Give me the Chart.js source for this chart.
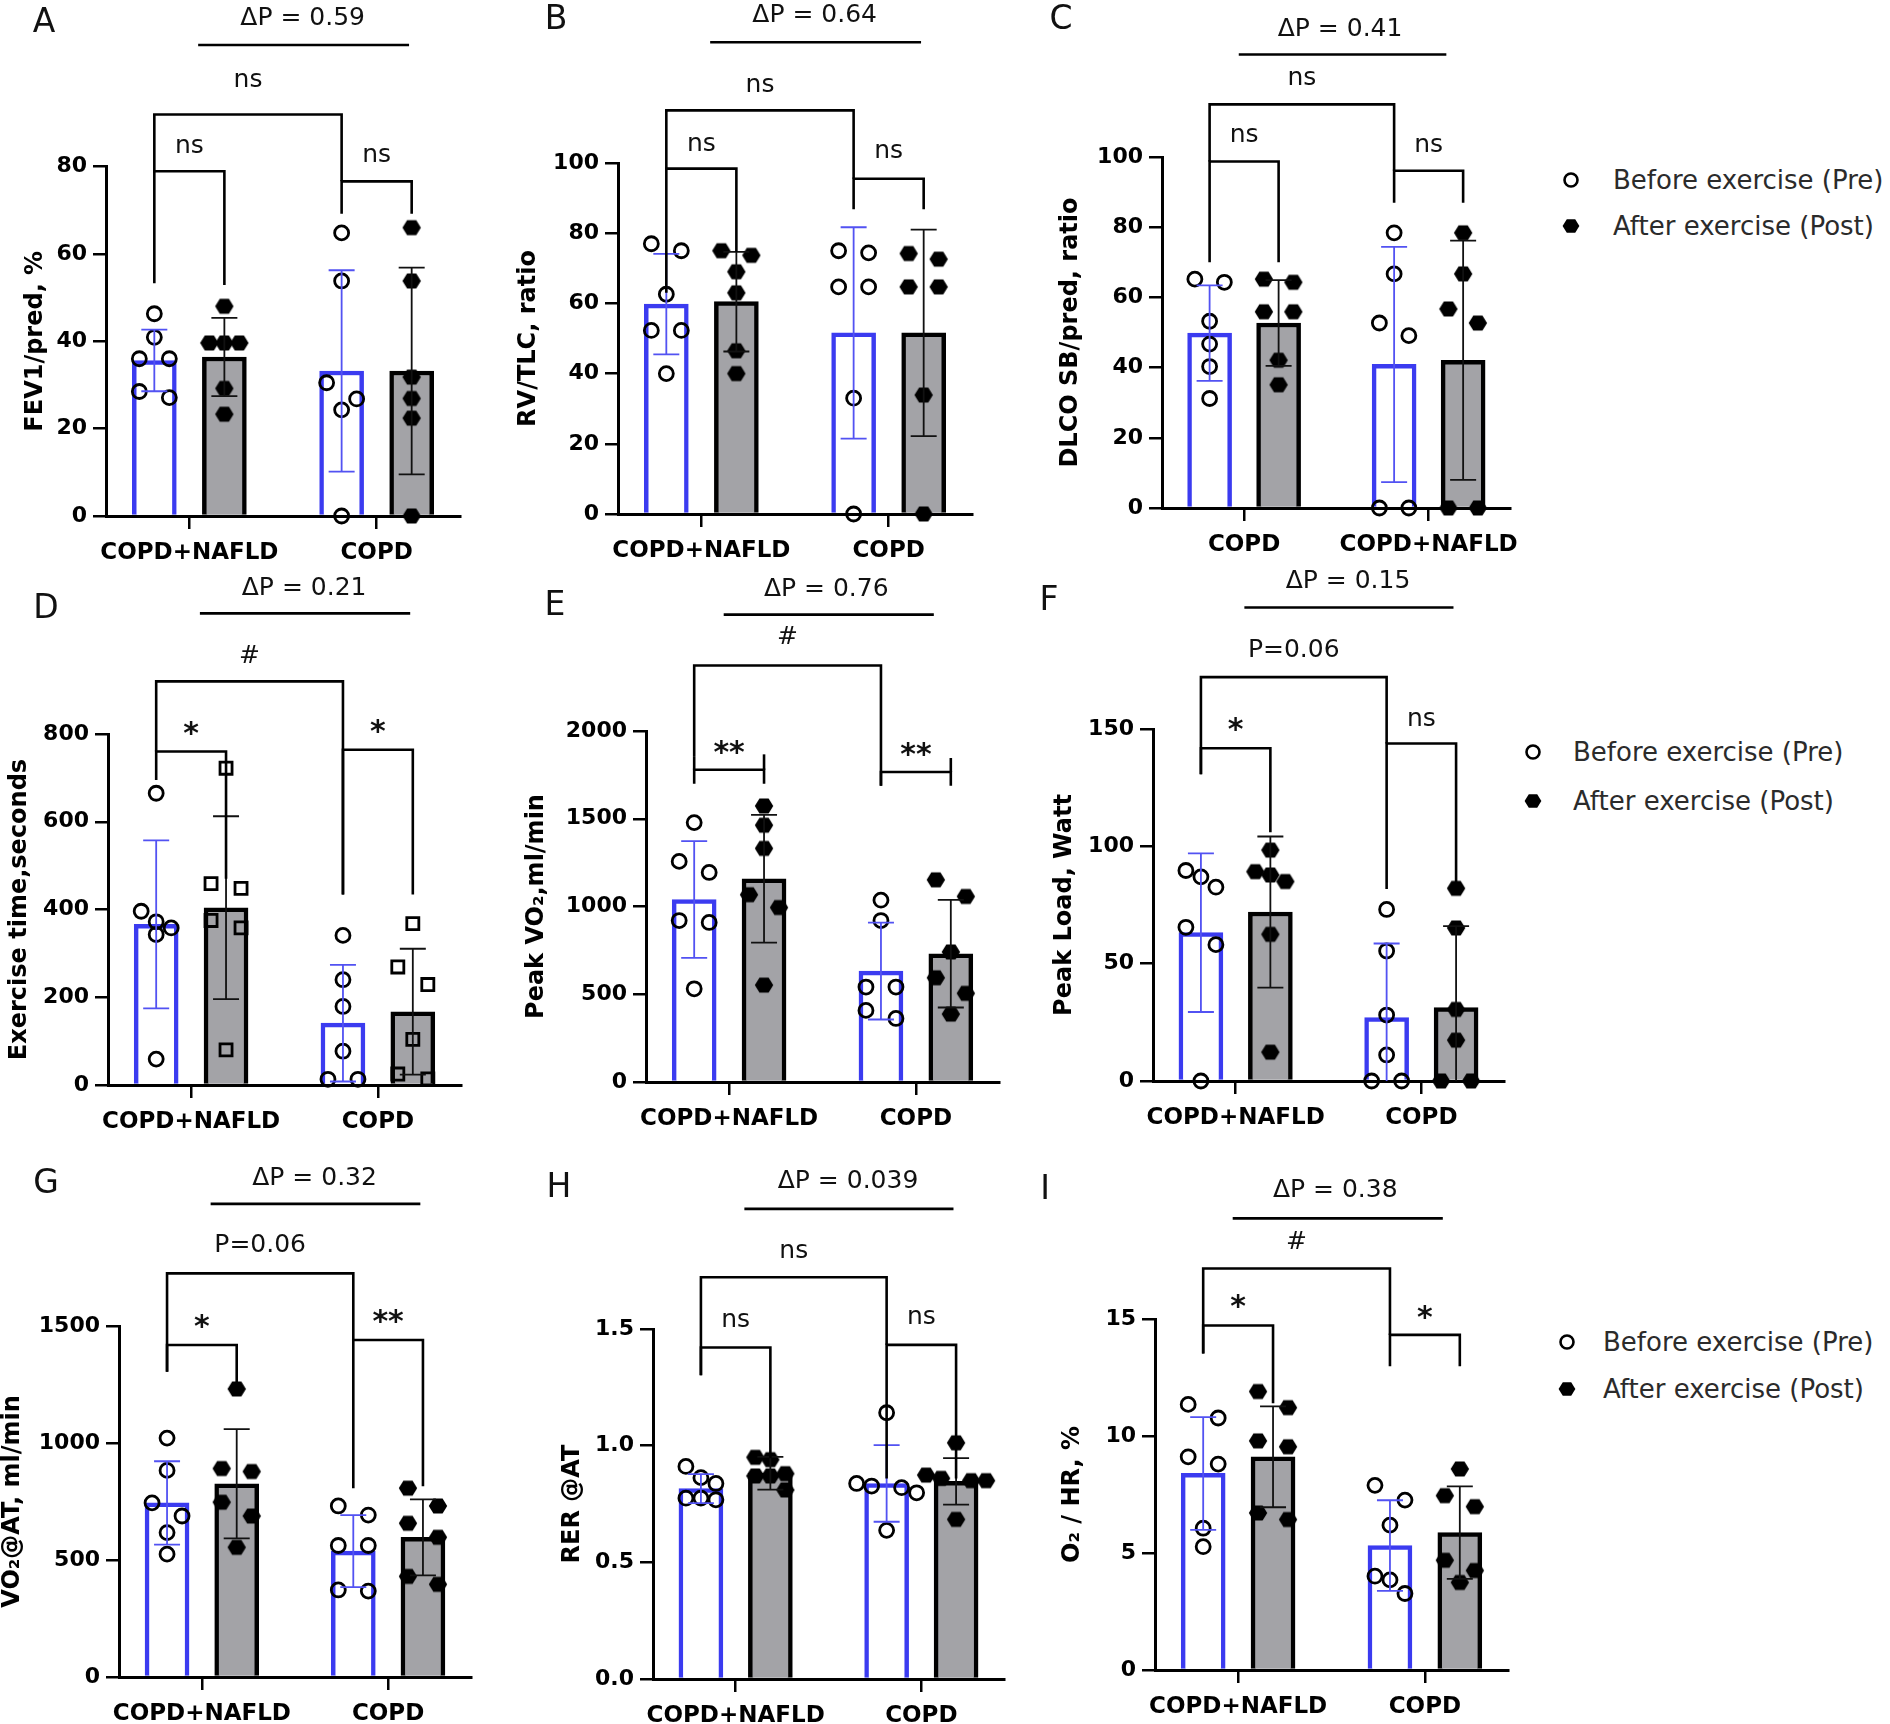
<!DOCTYPE html>
<html><head><meta charset="utf-8">
<script src="https://cdn.jsdelivr.net/npm/chart.js@4.4.1/dist/chart.umd.min.js"></script>
<style>
body{margin:0;background:#fff;}
#wrap{position:relative;width:1890px;height:1724px;overflow:hidden;background:#fff;font-family:'DejaVu Sans',sans-serif;}
#wrap canvas{position:absolute;}
.lt{position:absolute;font-size:33px;color:#111;transform:translate(-50%,-50%);line-height:1;}
.lg{position:absolute;font-size:26px;color:#2b2b2b;line-height:1;transform:translateY(-50%);white-space:nowrap;}
.mk{position:absolute;}
</style></head><body><div id="wrap"></div>
<script>
// ---------------- DATA ----------------
const legendLabels = ['Before exercise (Pre)', 'After exercise (Post)'];
const panelLetters = ['A','B','C','D','E','F','G','H','I'];

const catsA = ['COPD+NAFLD','COPD'];
const yTitleA = 'FEV1/pred, %';
const yMaxA = 80, yStepA = 20;
const preMeanA = [35.6, 33.2], preSdA = [7.05, 23.05];
const postMeanA = [36.4, 33.2], postSdA = [8.95, 23.65];
const prePtsA = [[46.3,40.9,36,36,27.1,28.5],[64.8,53.8,26.8,30.5,24.3,0]];
const postPtsA = [[48,39.6,39.6,39.6,29.2,23.3],[66,53.8,31.8,26.9,22.4,0]];
const sigA = ['ns','ns','ns'], deltaA = 'ΔP = 0.59';

const catsB = ['COPD+NAFLD','COPD'];
const yTitleB = 'RV/TLC, ratio';
const yMaxB = 100, yStepB = 20;
const preMeanB = [59.8, 51.6], preSdB = [14.3, 30.1];
const postMeanB = [60.5, 51.6], postSdB = [14.2, 29.4];
const prePtsB = [[75,77,62.6,52.3,52.3,40],[74.4,75,64.7,64.7,33,0]];
const postPtsB = [[73.7,75,69,63,46.5,40],[72.6,74.2,64.7,64.7,33.9,0]];
const sigB = ['ns','ns','ns'], deltaB = 'ΔP = 0.64';

const catsC = ['COPD','COPD+NAFLD'];
const yTitleC = 'DLCO SB/pred, ratio';
const yMaxC = 100, yStepC = 20;
const preMeanC = [49.8, 40.9], preSdC = [13.6, 33.5];
const postMeanC = [52.7, 42.1], postSdC = [12.2, 34.1];
const prePtsC = [[64.3,65.2,53.2,46.7,40.3,31.2],[78.4,66.7,49.1,52.7,0,0]];
const postPtsC = [[64.3,65.2,55.9,55.9,42.1,35.1],[78.4,66.7,52.7,56.7,0,0]];
const sigC = ['ns','ns','ns'], deltaC = 'ΔP = 0.41';

const catsD = ['COPD+NAFLD','COPD'];
const yTitleD = 'Exercise time,seconds';
const yMaxD = 800, yStepD = 200;
const preMeanD = [366, 141], preSdD = [191.5, 133];
const postMeanD = [404, 167], postSdD = [208.5, 143.5];
const prePtsD = [[665,396,372,358,343,59],[341,240,179,77,13,13]];
const postPtsD = [[722,459,448,375,358,80],[368,269,229,104,14,25]];
const sigD = ['*','*','#'], deltaD = 'ΔP = 0.21';

const catsE = ['COPD+NAFLD','COPD'];
const yTitleE = 'Peak VO₂,ml/min';
const yMaxE = 2000, yStepE = 500;
const preMeanE = [1040, 632], preSdE = [332.5, 276];
const postMeanE = [1158, 731], postSdE = [364, 306.5];
const prePtsE = [[1478,1257,1194,920,909,531],[1036,920,541,541,408,362]];
const postPtsE = [[1573,1463,1331,1067,994,552],[1057,1152,741,594,505,387]];
const sigE = ['**','**','#'], deltaE = 'ΔP = 0.76';

const catsF = ['COPD+NAFLD','COPD'];
const yTitleF = 'Peak Load, Watt';
const yMaxF = 150, yStepF = 50;
const preMeanF = [63.2, 27], preSdF = [33.8, 31.6];
const postMeanF = [72, 31.3], postSdF = [32.2, 34.7];
const prePtsF = [[89.7,87,82.6,65.5,58.1,0],[73.1,55.4,28.1,11.1,0,0]];
const postPtsF = [[89.2,98.4,87.8,85,62.5,12.3],[82.1,65.2,30.5,17.4,0,0]];
const sigF = ['*','ns','P=0.06'], deltaF = 'ΔP = 0.15';

const catsG = ['COPD+NAFLD','COPD'];
const yTitleG = 'VO₂@AT, ml/min';
const yMaxG = 1500, yStepG = 500;
const preMeanG = [744, 538], preSdG = [178, 153.5];
const postMeanG = [826, 597], postSdG = [233.5, 162.5];
const prePtsG = [[1021,883,744,688,617,525],[731,692,562,562,367,372]];
const postPtsG = [[1231,891,878,747,688,554],[807,731,657,597,430,396]];
const sigG = ['*','**','P=0.06'], deltaG = 'ΔP = 0.32';

const catsH = ['COPD+NAFLD','COPD'];
const yTitleH = 'RER @AT';
const yMaxH = 1.5, yStepH = 0.5;
const preMeanH = [0.816, 0.838], preSdH = [0.062, 0.164];
const postMeanH = [0.882, 0.847], postSdH = [0.07, 0.1];
const prePtsH = [[0.911,0.863,0.838,0.775,0.775,0.768],[1.141,0.838,0.827,0.82,0.798,0.637]];
const postPtsH = [[0.94,0.95,0.87,0.88,0.81,0.87],[1.012,0.874,0.85,0.85,0.86,0.684]];
const sigH = ['ns','ns','ns'], deltaH = 'ΔP = 0.039';

const catsI = ['COPD+NAFLD','COPD'];
const yTitleI = 'O₂ / HR, %';
const yMaxI = 15, yStepI = 5;
const preMeanI = [8.4, 5.32], preSdI = [2.41, 1.935];
const postMeanI = [9.11, 5.87], postSdI = [2.155, 1.975];
const prePtsI = [[11.35,10.77,8.8,9.11,6.06,5.27],[7.89,7.26,6.19,4.01,3.85,3.27]];
const postPtsI = [[11.9,11.21,9.54,9.79,6.43,6.71],[8.59,6.98,7.45,4.69,4.25,3.74]];
const sigI = ['*','*','#'], deltaI = 'ΔP = 0.38';

// ---------------- LAYOUT / STYLE ----------------
const FONT = "'DejaVu Sans', sans-serif";
const PRE_BLUE = '#3b3bf0';
const PRE_ERR = '#5252f2';
const POST_GRAY = '#a3a3a7';
Chart.defaults.font.family = FONT;
const wrap = document.getElementById('wrap');
const XMIN = -0.445, XMAX = 1.445;          // x range in group units
const P = {a:-0.187, b:0.187, c:0.813, d:1.187}; // bar centres (group units)

const hexImg = (() => {
  const c = document.createElement('canvas'); c.width = c.height = 20;
  const g = c.getContext('2d'); g.fillStyle = '#000'; g.beginPath();
  for (let i = 0; i < 6; i++) { const a = Math.PI / 3 * i; const x = 10 + 9.2 * Math.cos(a), y = 10 + 8.6 * Math.sin(a); i ? g.lineTo(x, y) : g.moveTo(x, y); }
  g.closePath(); g.fill(); return c;
})();

function swarm(vals, pxPerUnit, stepUnits) {
  const idx = vals.map((v, i) => i).sort((a, b) => vals[b] - vals[a]);
  const off = new Array(vals.length).fill(0);
  let k = 0;
  while (k < idx.length) {
    const start = vals[idx[k]]; const row = [idx[k]]; k++;
    while (k < idx.length && (start - vals[idx[k]]) * pxPerUnit < 18) { row.push(idx[k]); k++; }
    const n = row.length; let slots = [];
    if (n % 2) { for (let s = -(n - 1) / 2; s <= (n - 1) / 2; s++) slots.push(s); }
    else { for (let s = 1; s <= n / 2; s++) slots.push(-s, s); slots.sort((a, b) => a - b); }
    row.forEach((id, j) => off[id] = slots[j] * stepUnits);
  }
  return off;
}

const errPlugin = {
  id: 'errbars',
  afterDatasetsDraw(chart) {
    const ctx = chart.ctx, y = chart.scales.y;
    chart.data.datasets.forEach((ds, i) => {
      if (!ds.sd) return;
      const meta = chart.getDatasetMeta(i);
      meta.data.forEach((bar, j) => {
        const m = ds.data[j].y, s = ds.sd[j];
        const yt = y.getPixelForValue(m + s), lo = m - s, yb = y.getPixelForValue(Math.max(0, lo));
        ctx.save(); ctx.strokeStyle = ds.errColor; ctx.lineWidth = 1.8;
        ctx.beginPath(); ctx.moveTo(bar.x, yt); ctx.lineTo(bar.x, yb);
        ctx.moveTo(bar.x - 13, yt); ctx.lineTo(bar.x + 13, yt);
        if (lo > 0) { ctx.moveTo(bar.x - 13, yb); ctx.lineTo(bar.x + 13, yb); }
        ctx.stroke(); ctx.restore();
      });
    });
  }
};

const sigPlugin = {
  id: 'sig',
  afterDraw(chart, args, o) {
    if (!o || !o.inner1) return;
    const ctx = chart.ctx, xs = chart.scales.x, y = chart.scales.y;
    const X = v => xs.getPixelForValue(v), Y = v => y.getPixelForValue(v);
    ctx.save();
    ctx.strokeStyle = '#000'; ctx.lineWidth = 2.6; ctx.lineJoin = 'miter'; ctx.lineCap = 'butt';
    const br = (xa, xb, b) => {
      const [lv, lb, rb, lt, rt] = b;
      ctx.beginPath(); ctx.moveTo(X(xa), Y(lb)); ctx.lineTo(X(xa), Y(lv)); ctx.lineTo(X(xb), Y(lv)); ctx.lineTo(X(xb), Y(rb)); ctx.stroke();
      if (lt !== undefined) { ctx.beginPath(); ctx.moveTo(X(xa), Y(lt)); ctx.lineTo(X(xa), Y(lv)); ctx.stroke(); }
      if (rt !== undefined) { ctx.beginPath(); ctx.moveTo(X(xb), Y(rt)); ctx.lineTo(X(xb), Y(lv)); ctx.stroke(); }
    };
    br(P.a, P.b, o.inner1); br(P.c, P.d, o.inner2); br(P.a, P.c, o.outer);
    ctx.fillStyle = '#111'; ctx.textAlign = 'center'; ctx.textBaseline = 'middle';
    const lx = [0, 1, 0.313];
    o.labels.forEach((t, i) => {
      const star = /^\*+$/.test(t);
      ctx.font = (star ? 'bold 30px ' : '25px ') + FONT;
      ctx.fillText(t, X(lx[i]), Y(o.labelY[i]) + (star ? 7 : 0));
    });
    const dp = o.dp;
    ctx.beginPath(); ctx.moveTo(X(dp.x1), Y(dp.y)); ctx.lineTo(X(dp.x2), Y(dp.y)); ctx.stroke();
    ctx.font = '25px ' + FONT;
    ctx.fillText(o.delta, X(dp.tx), Y(dp.ty));
    ctx.restore();
  }
};

function buildPanel(c) {
  const {area, box} = c;
  const W = Math.round(box.x1 - box.x0), H = Math.round(box.y1 - box.y0);
  const cv = document.createElement('canvas');
  cv.width = W; cv.height = H;
  cv.style.left = box.x0 + 'px'; cv.style.top = box.y0 + 'px';
  cv.style.width = W + 'px'; cv.style.height = H + 'px';
  wrap.appendChild(cv);
  const XH = 58;
  const yW = area.l - box.x0;
  const pxPerUnit = (area.b - area.t) / c.yMax;
  const step = 15 / ((area.r - area.l) / (XMAX - XMIN));
  const pts = (arr, off) => {
    const out = [];
    arr.forEach((vals, g) => { const j = swarm(vals, pxPerUnit, step); vals.forEach((v, k) => out.push({x: g + off + j[k], y: v})); });
    return out;
  };
  const barPts = (means, off) => means.map((m, g) => ({x: g + off, y: m}));
  const titleFont = {size: 24, weight: 'bold', lineHeight: 1};
  const barCommon = {type: 'bar', borderWidth: 4.5, borderSkipped: 'bottom', grouped: false, barThickness: 44, maxBarThickness: 44, order: 3};
  new Chart(cv, {
    type: 'bar',
    data: {
      datasets: [
        Object.assign({label: legendLabels[0], data: barPts(c.preMean, P.a), sd: c.preSd, errColor: PRE_ERR, backgroundColor: '#ffffff', borderColor: PRE_BLUE}, barCommon),
        Object.assign({label: legendLabels[1], data: barPts(c.postMean, P.b), sd: c.postSd, errColor: '#111', backgroundColor: POST_GRAY, borderColor: '#000'}, barCommon),
        {type: 'scatter', data: pts(c.prePts, P.a), pointStyle: 'circle', pointRadius: 7, borderColor: '#000', borderWidth: 2.8, backgroundColor: 'rgba(0,0,0,0)', clip: false, order: 1},
        {type: 'scatter', data: pts(c.postPts, P.b), pointStyle: c.postSquare ? 'rect' : hexImg, pointRadius: c.postSquare ? 8.5 : 9, borderColor: '#000', borderWidth: c.postSquare ? 2.8 : 0, backgroundColor: c.postSquare ? 'rgba(0,0,0,0)' : '#000', clip: false, order: 1}
      ]
    },
    options: {
      responsive: false, maintainAspectRatio: false, animation: false, devicePixelRatio: 1, events: [],
      layout: {padding: {left: 0, top: area.t - box.y0, right: box.x1 - area.r, bottom: (box.y1 - area.b) - XH}},
      plugins: {
        legend: {display: false}, tooltip: {enabled: false},
        sig: Object.assign({labels: c.sigLabels, delta: c.delta}, c.sig)
      },
      scales: {
        x: {
          type: 'linear', min: XMIN, max: XMAX, offset: false, grace: 0, bounds: 'data',
          afterBuildTicks: s => { s.ticks = c.cats.map((t, i) => ({value: i})); },
          grid: {offset: false, drawOnChartArea: false, drawTicks: true, tickLength: 13, color: '#000', lineWidth: 2.5},
          border: {display: true, color: '#000', width: 3},
          ticks: {font: {size: 23, weight: 'bold'}, color: '#000', padding: 10, autoSkip: false, maxRotation: 0, minRotation: 0,
                  callback: (v, i) => c.cats[i]},
          afterFit: s => { s.height = XH; }
        },
        y: {
          type: 'linear', min: 0, max: c.yMax,
          ticks: {stepSize: c.yStep, autoSkip: false, font: {size: 22, weight: 'bold'}, color: '#000', padding: 6,
                  callback: v => c.yStep < 1 ? Number(v).toFixed(1) : v},
          grid: {drawOnChartArea: false, drawTicks: true, tickLength: 13, color: '#000', lineWidth: 2.5},
          border: {display: true, color: '#000', width: 3},
          title: {display: true, text: c.title, color: '#000', font: titleFont, padding: {top: Math.max(0, (area.l - c.titleOff) - box.x0 - 12), bottom: 0}},
          afterFit: s => { s.width = yW; }
        }
      }
    },
    plugins: [errPlugin, sigPlugin]
  });
}

const col = (l, r, rowTop, b, first) => ({x0: first ? 0 : l - 130, x1: r + 14, y0: rowTop, y1: b + 62});

const dpWide = (y, ty) => ({x1: 0.047, x2: 1.173, y, tx: 0.605, ty});
const dpShift = (y, ty) => ({x1: -0.029, x2: 1.096, y, tx: 0.52, ty});
const panels = [
  {cats: catsA, title: yTitleA, yMax: yMaxA, yStep: yStepA, preMean: preMeanA, preSd: preSdA, postMean: postMeanA, postSd: postSdA, prePts: prePtsA, postPts: postPtsA, sigLabels: sigA, delta: deltaA,
   area: {l: 106, r: 460, t: 166.5, b: 516}, titleOff: 70,
   sig: {inner1: [78.9, 53.3, 52.9], inner2: [76.6, 69.2, 69.2], outer: [91.9, 78.9, 76.6], labelY: [84.6, 82.6, 99.6], dp: dpWide(107.8, 113.9)}},
  {cats: catsB, title: yTitleB, yMax: yMaxB, yStep: yStepB, preMean: preMeanB, preSd: preSdB, postMean: postMeanB, postSd: postSdB, prePts: prePtsB, postPts: postPtsB, sigLabels: sigB, delta: deltaB,
   area: {l: 618, r: 972, t: 163, b: 514}, titleOff: 89,
   sig: {inner1: [98.4, 63, 74.7], inner2: [95.5, 86.8, 86.8], outer: [115, 98.4, 95.5], labelY: [105.3, 103.2, 122], dp: dpWide(134.4, 142.1)}},
  {cats: catsC, title: yTitleC, yMax: yMaxC, yStep: yStepC, preMean: preMeanC, preSd: preSdC, postMean: postMeanC, postSd: postSdC, prePts: prePtsC, postPts: postPtsC, sigLabels: sigC, delta: deltaC,
   area: {l: 1162, r: 1517, t: 157, b: 507.6}, titleOff: 91,
   sig: {inner1: [98.7, 70, 70], inner2: [96.1, 87, 87], outer: [115, 98.7, 96.1], labelY: [106, 103.2, 122.5], dp: dpShift(129.2, 136.4)}},
  {cats: catsD, title: yTitleD, yMax: yMaxD, yStep: yStepD, preMean: preMeanD, preSd: preSdD, postMean: postMeanD, postSd: postSdD, prePts: prePtsD, postPts: postPtsD, sigLabels: sigD, delta: deltaD, postSquare: true,
   area: {l: 108, r: 461, t: 734, b: 1085}, titleOff: 88,
   sig: {inner1: [760, 695, 470], inner2: [764, 434, 434], outer: [920, 760, 434], labelY: [813, 817, 977], dp: dpWide(1075, 1132)}},
  {cats: catsE, title: yTitleE, yMax: yMaxE, yStep: yStepE, preMean: preMeanE, preSd: preSdE, postMean: postMeanE, postSd: postSdE, prePts: prePtsE, postPts: postPtsE, sigLabels: sigE, delta: deltaE,
   area: {l: 646, r: 999, t: 731, b: 1082}, titleOff: 109,
   sig: {inner1: [1779, 1699, 1699, 1857, 1867], inner2: [1766, 1688, 1688, undefined, 1846], outer: [2373, 1857, 1688], labelY: [1909, 1899, 2531], dp: dpShift(2663, 2808)}},
  {cats: catsF, title: yTitleF, yMax: yMaxF, yStep: yStepF, preMean: preMeanF, preSd: preSdF, postMean: postMeanF, postSd: postSdF, prePts: prePtsF, postPts: postPtsF, sigLabels: sigF, delta: deltaF,
   area: {l: 1153, r: 1504, t: 729, b: 1081}, titleOff: 88,
   sig: {inner1: [141.8, 130.7, 106], inner2: [143.8, 81.8, 81.8], outer: [172.1, 130.7, 143.8], labelY: [152, 154, 183.6], dp: dpWide(201.8, 212.8)}},
  {cats: catsG, title: yTitleG, yMax: yMaxG, yStep: yStepG, preMean: preMeanG, preSd: preSdG, postMean: postMeanG, postSd: postSdG, prePts: prePtsG, postPts: postPtsG, sigLabels: sigG, delta: deltaG,
   area: {l: 119, r: 471, t: 1326, b: 1677}, titleOff: 106,
   sig: {inner1: [1419, 1305, 1234], inner2: [1440, 807, 815], outer: [1725, 1305, 1440], labelY: [1519, 1540, 1843], dp: dpWide(2022, 2131)}},
  {cats: catsH, title: yTitleH, yMax: yMaxH, yStep: yStepH, preMean: preMeanH, preSd: preSdH, postMean: postMeanH, postSd: postSdH, prePts: prePtsH, postPts: postPtsH, sigLabels: sigH, delta: deltaH,
   area: {l: 653, r: 1004, t: 1329, b: 1679}, titleOff: 80,
   sig: {inner1: [1.421, 1.302, 0.946], inner2: [1.432, 0.859, 0.859], outer: [1.722, 1.302, 1.432], labelY: [1.535, 1.548, 1.833], dp: dpWide(2.015, 2.134)}},
  {cats: catsI, title: yTitleI, yMax: yMaxI, yStep: yStepI, preMean: preMeanI, preSd: preSdI, postMean: postMeanI, postSd: postSdI, prePts: prePtsI, postPts: postPtsI, sigLabels: sigI, delta: deltaI,
   area: {l: 1155, r: 1508, t: 1319, b: 1670}, titleOff: 82,
   sig: {inner1: [14.72, 13.53, 11.4], inner2: [14.32, 12.98, 12.98], outer: [17.16, 13.53, 14.32], labelY: [15.74, 15.27, 18.27], dp: dpShift(19.3, 20.48)}}
];
const rowTops = [0, 560, 1140];
panels.forEach((p, i) => {
  const r = Math.floor(i / 3), cIdx = i % 3;
  p.box = col(p.area.l, p.area.r, rowTops[r], p.area.b, cIdx === 0);
  if (p.box.y1 > 1724) p.box.y1 = 1724;
  buildPanel(p);
});

// panel letters
const letterPos = [[44,20],[556,17],[1061,17],[46,606],[555,603],[1049,598],[46,1181],[559,1185],[1045,1187]];
panelLetters.forEach((t, i) => {
  const d = document.createElement('div'); d.className = 'lt'; d.textContent = t;
  d.style.left = letterPos[i][0] + 'px'; d.style.top = letterPos[i][1] + 'px'; wrap.appendChild(d);
});

// legends
const legendPos = [{mx: 1571, y: [180, 226.4], tx: 1613}, {mx: 1532.5, y: [752, 800.5], tx: 1573}, {mx: 1567, y: [1341.6, 1388.6], tx: 1603}];
const NS = 'http://www.w3.org/2000/svg';
legendPos.forEach(L => {
  legendLabels.forEach((lab, k) => {
    const s = document.createElementNS(NS, 'svg'); s.setAttribute('width', 22); s.setAttribute('height', 22); s.setAttribute('class', 'mk');
    s.style.left = (L.mx - 11) + 'px'; s.style.top = (L.y[k] - 11) + 'px';
    if (k === 0) {
      const c = document.createElementNS(NS, 'circle'); c.setAttribute('cx', 11); c.setAttribute('cy', 11); c.setAttribute('r', 6.5);
      c.setAttribute('fill', 'none'); c.setAttribute('stroke', '#000'); c.setAttribute('stroke-width', 2.6); s.appendChild(c);
    } else {
      const pts = []; for (let i = 0; i < 6; i++) { const a = Math.PI / 3 * i; pts.push((11 + 8.4 * Math.cos(a)).toFixed(2) + ',' + (11 + 7.8 * Math.sin(a)).toFixed(2)); }
      const pg = document.createElementNS(NS, 'polygon'); pg.setAttribute('points', pts.join(' ')); pg.setAttribute('fill', '#000'); s.appendChild(pg);
    }
    wrap.appendChild(s);
    const d = document.createElement('div'); d.className = 'lg'; d.textContent = lab;
    d.style.left = L.tx + 'px'; d.style.top = L.y[k] + 'px'; wrap.appendChild(d);
  });
});
</script>
</body></html>
